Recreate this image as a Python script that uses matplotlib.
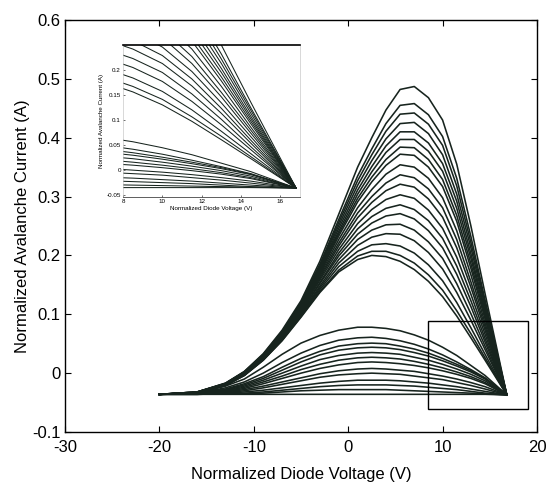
import matplotlib
matplotlib.use("Agg")
import matplotlib.pyplot as plt
from matplotlib.patches import Rectangle

# ---------------- data ----------------
V_GRID = [-20, -16, -13, -11, -9, -7, -5, -3, -1, 1, 2.5, 4, 5.5, 7, 8.5, 10, 11.5, 13, 14.5, 16.8]

# large-amplitude family (peaks ~0.20 .. 0.49 A)
I_L01 = [-0.036, -0.032, -0.017, 0.003, 0.033, 0.073, 0.123, 0.190, 0.270, 0.350, 0.400, 0.447, 0.482, 0.487, 0.468, 0.430, 0.355, 0.250, 0.135, -0.037]
I_L02 = [-0.036, -0.032, -0.017, 0.002, 0.032, 0.071, 0.120, 0.185, 0.261, 0.335, 0.381, 0.424, 0.455, 0.458, 0.439, 0.402, 0.331, 0.232, 0.124, -0.037]
I_L03 = [-0.036, -0.032, -0.018, 0.002, 0.031, 0.070, 0.119, 0.182, 0.256, 0.327, 0.371, 0.411, 0.440, 0.442, 0.423, 0.387, 0.318, 0.222, 0.119, -0.037]
I_L04 = [-0.036, -0.032, -0.018, 0.002, 0.031, 0.069, 0.117, 0.180, 0.251, 0.319, 0.361, 0.398, 0.424, 0.426, 0.407, 0.371, 0.304, 0.213, 0.113, -0.037]
I_L05 = [-0.036, -0.032, -0.018, 0.001, 0.030, 0.069, 0.116, 0.177, 0.246, 0.311, 0.351, 0.386, 0.410, 0.410, 0.391, 0.356, 0.292, 0.203, 0.107, -0.037]
I_L06 = [-0.036, -0.033, -0.018, 0.001, 0.030, 0.068, 0.115, 0.175, 0.241, 0.304, 0.342, 0.375, 0.397, 0.397, 0.377, 0.343, 0.280, 0.195, 0.102, -0.037]
I_L07 = [-0.036, -0.033, -0.018, 0.001, 0.029, 0.067, 0.114, 0.172, 0.237, 0.297, 0.333, 0.363, 0.384, 0.383, 0.363, 0.329, 0.268, 0.186, 0.097, -0.037]
I_L08 = [-0.036, -0.033, -0.019, 0.000, 0.029, 0.066, 0.112, 0.170, 0.233, 0.291, 0.325, 0.353, 0.372, 0.370, 0.350, 0.317, 0.258, 0.178, 0.092, -0.037]
I_L09 = [-0.036, -0.033, -0.019, 0.000, 0.028, 0.065, 0.111, 0.167, 0.227, 0.281, 0.312, 0.338, 0.354, 0.350, 0.331, 0.298, 0.242, 0.167, 0.085, -0.037]
I_L10 = [-0.036, -0.033, -0.019, 0.000, 0.028, 0.064, 0.109, 0.164, 0.221, 0.272, 0.300, 0.323, 0.337, 0.332, 0.313, 0.281, 0.227, 0.155, 0.079, -0.037]
I_L11 = [-0.036, -0.033, -0.019, -0.001, 0.027, 0.063, 0.108, 0.161, 0.216, 0.264, 0.290, 0.310, 0.321, 0.316, 0.296, 0.265, 0.213, 0.146, 0.073, -0.037]
I_L12 = [-0.036, -0.033, -0.019, -0.001, 0.026, 0.062, 0.106, 0.158, 0.210, 0.254, 0.278, 0.295, 0.303, 0.297, 0.277, 0.246, 0.197, 0.134, 0.066, -0.037]
I_L13 = [-0.036, -0.033, -0.020, -0.002, 0.026, 0.061, 0.104, 0.154, 0.204, 0.245, 0.266, 0.280, 0.286, 0.278, 0.259, 0.229, 0.182, 0.123, 0.059, -0.037]
I_L14 = [-0.036, -0.033, -0.020, -0.002, 0.025, 0.060, 0.103, 0.152, 0.199, 0.236, 0.255, 0.267, 0.271, 0.262, 0.242, 0.213, 0.168, 0.113, 0.053, -0.037]
I_L15 = [-0.036, -0.034, -0.020, -0.003, 0.024, 0.059, 0.101, 0.148, 0.193, 0.227, 0.243, 0.252, 0.253, 0.243, 0.223, 0.195, 0.152, 0.101, 0.046, -0.037]
I_L16 = [-0.036, -0.034, -0.020, -0.003, 0.024, 0.058, 0.099, 0.145, 0.187, 0.217, 0.231, 0.237, 0.236, 0.225, 0.205, 0.177, 0.137, 0.090, 0.040, -0.037]
I_L17 = [-0.036, -0.034, -0.021, -0.003, 0.023, 0.057, 0.098, 0.142, 0.181, 0.207, 0.218, 0.220, 0.216, 0.204, 0.184, 0.157, 0.120, 0.077, 0.032, -0.037]
I_L18 = [-0.036, -0.034, -0.021, -0.004, 0.022, 0.056, 0.096, 0.139, 0.175, 0.199, 0.207, 0.207, 0.200, 0.187, 0.167, 0.141, 0.106, 0.067, 0.026, -0.037]
I_L19 = [-0.036, -0.034, -0.021, -0.004, 0.022, 0.055, 0.095, 0.137, 0.172, 0.193, 0.200, 0.198, 0.190, 0.176, 0.156, 0.130, 0.097, 0.060, 0.022, -0.037]

# small-amplitude family (peaks below ~0.08 A)
I_S01 = [-0.036, -0.033, -0.022, -0.010, 0.010, 0.032, 0.051, 0.064, 0.073, 0.078, 0.078, 0.076, 0.072, 0.065, 0.056, 0.044, 0.030, 0.013, -0.004, -0.037]
I_S02 = [-0.036, -0.034, -0.025, -0.015, 0.000, 0.018, 0.034, 0.047, 0.056, 0.060, 0.061, 0.059, 0.055, 0.049, 0.041, 0.031, 0.019, 0.006, -0.008, -0.037]
I_S03 = [-0.036, -0.034, -0.027, -0.018, -0.006, 0.010, 0.025, 0.037, 0.046, 0.050, 0.051, 0.050, 0.046, 0.041, 0.034, 0.025, 0.015, 0.004, -0.009, -0.037]
I_S04 = [-0.036, -0.034, -0.028, -0.020, -0.009, 0.005, 0.019, 0.031, 0.039, 0.043, 0.044, 0.043, 0.040, 0.035, 0.029, 0.021, 0.012, 0.002, -0.010, -0.037]
I_S05 = [-0.036, -0.035, -0.029, -0.022, -0.012, 0.000, 0.012, 0.023, 0.030, 0.034, 0.035, 0.034, 0.032, 0.027, 0.022, 0.015, 0.007, -0.002, -0.013, -0.037]
I_S06 = [-0.036, -0.035, -0.030, -0.024, -0.015, -0.005, 0.006, 0.015, 0.022, 0.026, 0.027, 0.026, 0.024, 0.020, 0.015, 0.009, 0.002, -0.006, -0.016, -0.037]
I_S07 = [-0.036, -0.035, -0.031, -0.026, -0.018, -0.009, 0.000, 0.008, 0.014, 0.018, 0.019, 0.018, 0.016, 0.013, 0.009, 0.004, -0.002, -0.009, -0.018, -0.037]
I_S08 = [-0.036, -0.035, -0.032, -0.028, -0.022, -0.015, -0.008, -0.001, 0.004, 0.007, 0.008, 0.007, 0.005, 0.003, -0.001, -0.005, -0.010, -0.016, -0.023, -0.037]
I_S09 = [-0.036, -0.035, -0.033, -0.030, -0.025, -0.019, -0.013, -0.007, -0.003, -0.001, 0.000, -0.001, -0.002, -0.005, -0.008, -0.011, -0.016, -0.021, -0.027, -0.037]
I_S10 = [-0.036, -0.036, -0.034, -0.032, -0.029, -0.025, -0.021, -0.017, -0.014, -0.012, -0.012, -0.012, -0.013, -0.015, -0.017, -0.020, -0.023, -0.027, -0.031, -0.037]
I_S11 = [-0.036, -0.036, -0.035, -0.034, -0.032, -0.029, -0.026, -0.023, -0.021, -0.020, -0.020, -0.020, -0.021, -0.022, -0.024, -0.026, -0.028, -0.031, -0.034, -0.037]
I_S12 = [-0.036, -0.036, -0.035, -0.035, -0.034, -0.032, -0.030, -0.029, -0.028, -0.028, -0.028, -0.028, -0.029, -0.030, -0.031, -0.032, -0.033, -0.034, -0.035, -0.037]
I_BASE = [-0.036, -0.036, -0.036, -0.036, -0.036, -0.036, -0.036, -0.036, -0.036, -0.036, -0.036, -0.036, -0.036, -0.036, -0.036, -0.036, -0.036, -0.036, -0.036, -0.037]

CURVES = (I_L01, I_L02, I_L03, I_L04, I_L05, I_L06, I_L07, I_L08, I_L09, I_L10,
          I_L11, I_L12, I_L13, I_L14, I_L15, I_L16, I_L17, I_L18, I_L19,
          I_S01, I_S02, I_S03, I_S04, I_S05, I_S06, I_S07, I_S08, I_S09, I_S10,
          I_S11, I_S12, I_BASE)

X_TICKS = [-30, -20, -10, 0, 10, 20]
X_TICK_LABELS = ["-30", "-20", "-10", "0", "10", "20"]
Y_TICKS = [-0.1, 0, 0.1, 0.2, 0.3, 0.4, 0.5, 0.6]
Y_TICK_LABELS = ["-0.1", "0", "0.1", "0.2", "0.3", "0.4", "0.5", "0.6"]

INSET_X_TICKS = [8, 10, 12, 14, 16]
INSET_X_TICK_LABELS = ["8", "10", "12", "14", "16"]
INSET_Y_TICKS = [-0.05, 0, 0.05, 0.1, 0.15, 0.2]
INSET_Y_TICK_LABELS = ["-0.05", "0", "0.05", "0.1", "0.15", "0.2"]

ZOOM_BOX_X = (8.5, 19.05)
ZOOM_BOX_Y = (-0.061, 0.088)

X_LABEL = "Normalized Diode Voltage (V)"
Y_LABEL = "Normalized Avalanche Current (A)"

# ---------------- drawing ----------------
plt.rcParams["font.family"] = ["Liberation Sans", "DejaVu Sans"]
LINE = "#17241e"

fig = plt.figure(figsize=(5.48, 4.83), dpi=100)
ax = fig.add_axes([0.1186, 0.1056, 0.8613, 0.853])

for cur in CURVES:
    ax.plot(V_GRID, cur, color=LINE, lw=1.15, solid_joinstyle="round")

ax.set_xlim(-30, 20)
ax.set_ylim(-0.1, 0.6)
ax.set_xticks(X_TICKS)
ax.set_xticklabels(X_TICK_LABELS)
ax.set_yticks(Y_TICKS)
ax.set_yticklabels(Y_TICK_LABELS)
ax.tick_params(direction="in", length=4, width=0.8, top=True, right=True,
               labelsize=12, colors="black")
ax.tick_params(axis="x", pad=5.5)
ax.tick_params(axis="y", pad=3)
for sp in ax.spines.values():
    sp.set_linewidth(1.0)
    sp.set_color("black")

ax.set_xlabel(X_LABEL, fontsize=12)
ax.set_ylabel(Y_LABEL, fontsize=12)
ax.xaxis.set_label_coords(0.5, -0.085)
ax.yaxis.set_label_coords(-0.075, 0.5)

ax.add_patch(Rectangle((ZOOM_BOX_X[0], ZOOM_BOX_Y[0]),
                       ZOOM_BOX_X[1] - ZOOM_BOX_X[0], ZOOM_BOX_Y[1] - ZOOM_BOX_Y[0],
                       fill=False, ec="black", lw=1.0, zorder=4))

# inset
axi = fig.add_axes([0.2245, 0.592, 0.323, 0.3147], facecolor="white", zorder=3)
for cur in CURVES:
    axi.plot(V_GRID, cur, color=LINE, lw=0.75)
axi.set_xlim(8, 17)
axi.set_ylim(-0.055, 0.25)
axi.set_xticks(INSET_X_TICKS)
axi.set_xticklabels(INSET_X_TICK_LABELS)
axi.set_yticks(INSET_Y_TICKS)
axi.set_yticklabels(INSET_Y_TICK_LABELS)
axi.tick_params(direction="in", length=1.5, width=0.4, labelsize=4.5, pad=1.5,
                top=False, right=False)
axi.spines["top"].set_linewidth(1.2)
axi.spines["bottom"].set_linewidth(0.6)
axi.spines["bottom"].set_color("#444444")
axi.spines["left"].set_linewidth(0.4)
axi.spines["left"].set_color("#bbbbbb")
axi.spines["right"].set_linewidth(0.4)
axi.spines["right"].set_color("#bbbbbb")
axi.set_xlabel(X_LABEL, fontsize=4.5, labelpad=1.5)
axi.set_ylabel(Y_LABEL, fontsize=4.5, labelpad=1.5)

fig.savefig("out.png", dpi=100)
